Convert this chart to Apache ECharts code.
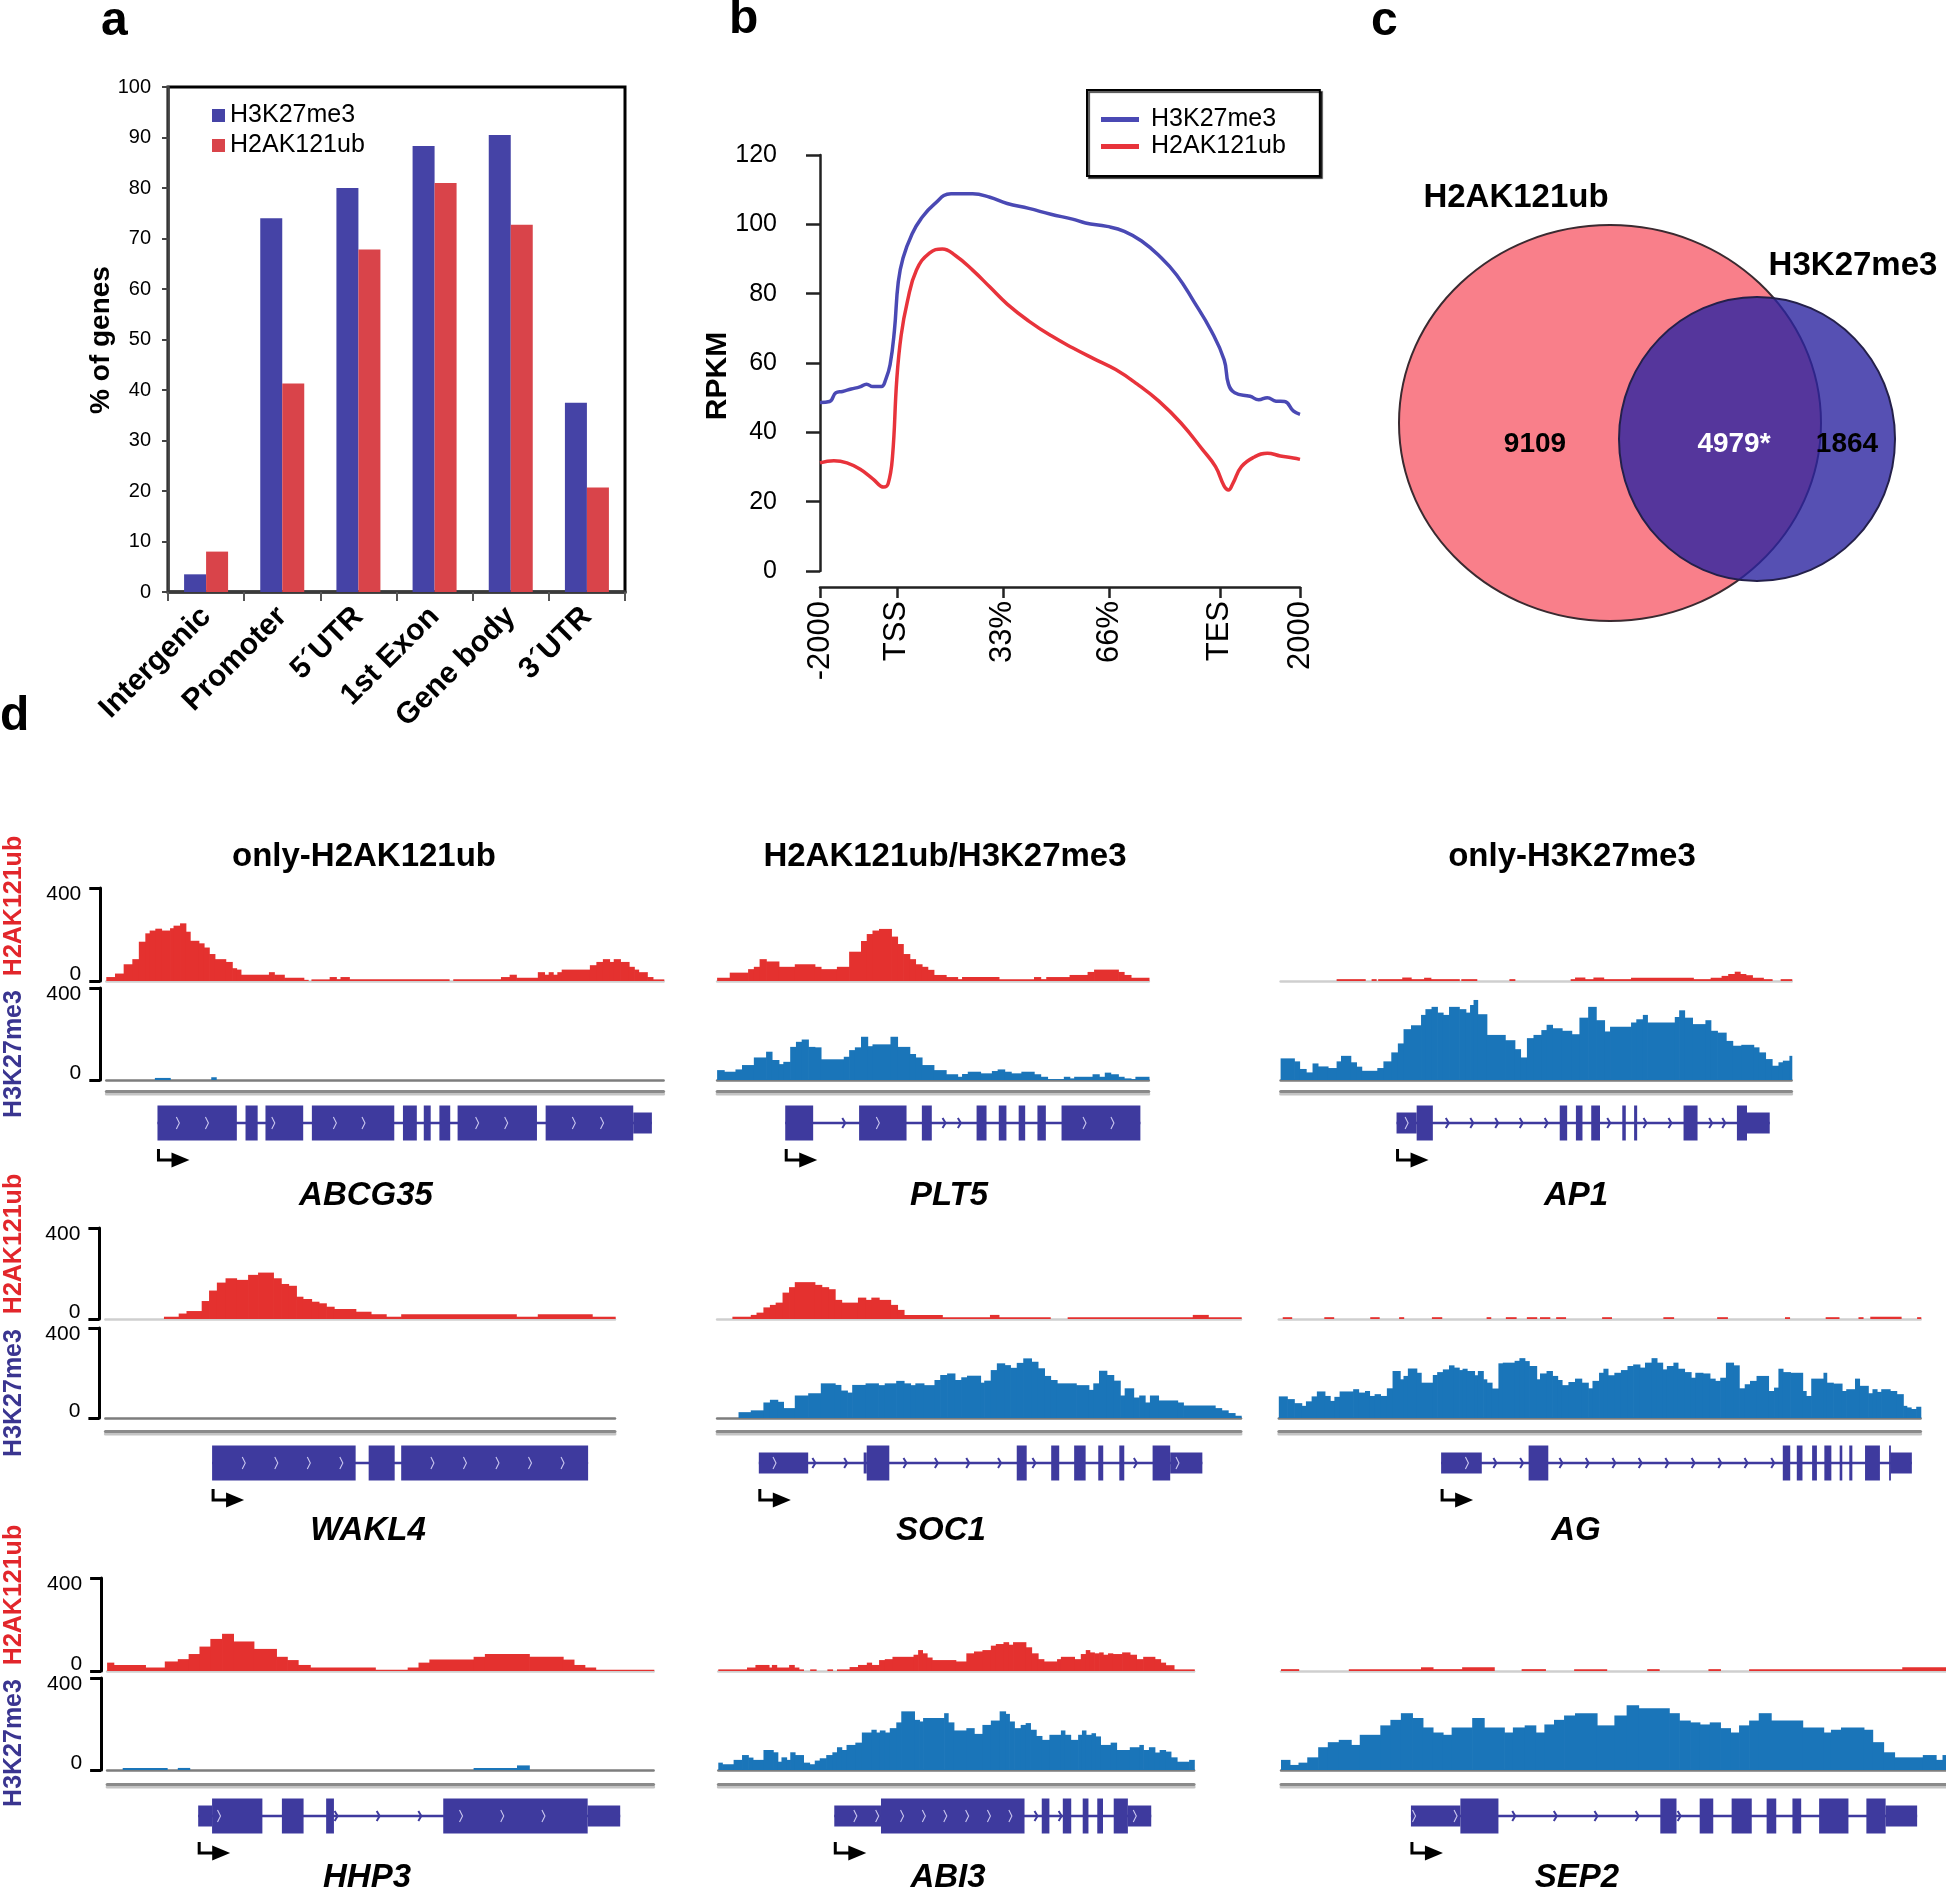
<!DOCTYPE html>
<html><head><meta charset="utf-8">
<script src="https://cdn.jsdelivr.net/npm/echarts@6/dist/echarts.min.js"></script>
<style>html,body{margin:0;padding:0;background:#fff}#c{width:1946px;height:1888px}</style>
</head><body><div id="c"></div>
<script>
const FONT = '"Liberation Sans", Arial, Helvetica, sans-serif';

// ---------- panel a ----------
const regions = ['Intergenic', 'Promoter', '5´UTR', '1st Exon', 'Gene body', '3´UTR'];
const pctH3K27me3 = [3.5, 74, 80, 88.3, 90.5, 37.5];
const pctH2AK121ub = [8, 41.3, 67.8, 81, 72.7, 20.7];

// ---------- panel b ----------
const profileTickPos = [0, 16, 38.1, 60.3, 83.3, 100];
const profileTickLabels = ['-2000', 'TSS', '33%', '66%', 'TES', '2000'];
const profileH3K27me3 = [[0,48.6],[2.0,48.9],[3.3,51.4],[4.7,51.8],[6.5,52.5],[8.3,53.1],[9.7,53.9],[11.0,53.2],[12.8,53.2],[13.7,55.3],[14.6,59.5],[15.5,69.3],[16.3,83.3],[17.3,90.3],[19.2,97.3],[21.0,101.5],[23.7,105.7],[27.3,108.8],[31.8,108.8],[35.4,107.8],[39.0,106],[43.5,104.6],[48.1,102.9],[52.6,101.5],[55.3,100.4],[59.8,99.4],[63.4,98],[67.0,95.2],[70.6,91],[74.3,85.4],[77.9,77.7],[81.5,69.3],[84.2,60.9],[85.1,53.9],[86.4,51.4],[89.6,50.4],[91.4,49.4],[93.2,50],[95.0,49],[96.8,48.9],[98.6,46.2],[100,45.2]];
const profileH2AK121ub = [[0,31.2],[2.9,31.8],[5.6,31.2],[8.3,29.4],[11.0,26.6],[13.3,24.2],[14.2,25.2],[15.1,32.9],[16.0,55.3],[16.9,67.9],[18.2,77.7],[20.1,86.8],[22.8,91.7],[25.5,92.9],[28.2,91],[31.8,86.8],[35.4,81.9],[39.0,77],[43.5,72.1],[48.1,67.9],[52.6,64.4],[57.1,61.2],[61.6,58.1],[66.1,53.9],[70.6,49],[75.2,42.7],[79.7,35],[82.4,30.1],[84.2,24.5],[85.1,23.4],[86.0,25.2],[87.8,30.1],[90.5,32.9],[93.2,34],[95.9,33.2],[98.6,32.6],[100,32.2]];

// ---------- panel c ----------
const vennSets = ['H2AK121ub', 'H3K27me3'];
const vennCounts = [9109, 4979, 1864]; // only H2AK121ub, both (*), only H3K27me3

// ---------- panel d : tracks [position, value] steps (null = no signal) ----------
const ABCG35_locus = [245, 1530, 363];
const ABCG35_H2AK121ub = [[245,17],[265,32],[285,72],[305,94],[320,169],[335,205],[345,217],[358,225],[372,217],[392,227],[400,238],[415,248],[428,212],[438,173],[458,162],[470,144],[482,116],[495,94],[520,82],[535,55],[545,49],[555,27],[620,38],[632,27],[655,14],[700,5],[710,null],[718,7],[760,17],[775,8],[785,17],[805,7],[1035,null],[1045,7],[1155,17],[1175,27],[1190,14],[1240,38],[1255,27],[1265,38],[1275,27],[1285,38],[1295,49],[1360,68],[1375,82],[1390,94],[1405,82],[1415,94],[1430,82],[1450,61],[1462,49],[1472,38],[1492,17],[1505,7],[1530,null]];
const ABCG35_H3K27me3 = [[357,9],[392,null],[487,12],[498,null]];
const ABCG35_exons = [[363,546,1],[566,594,1],[612,699,1],[719,909,1],[929,961,1],[977,993,1],[1013,1038,1],[1055,1238,1],[1258,1460,1],[1460,1503,0]];
const ABCG35_chevrons = [410,477,630,772,838,1100,1167,1323,1388];

const PLT5_locus = [97, 1225, 275];
const PLT5_H2AK121ub = [[97,14],[130,36],[178,51],[193,61],[208,94],[225,84],[258,61],[300,72],[352,61],[368,51],[410,61],[442,126],[473,172],[488,202],[503,217],[520,224],[552,191],[568,159],[583,116],[600,94],[615,72],[632,61],[647,48],[663,26],[695,17],[725,8],[737,17],[833,8],[925,17],[942,8],[957,17],[1018,26],[1065,39],[1082,49],[1145,39],[1160,26],[1178,14],[1225,null]];
const PLT5_H3K27me3 = [[97,43],[115,36],[145,46],[162,65],[193,98],[225,123],[240,87],[258,69],[270,79],[288,144],[303,166],[318,176],[335,144],[352,142],[368,90],[428,101],[442,130],[457,142],[473,188],[490,147],[503,155],[550,188],[568,144],[600,113],[615,98],[632,65],[663,43],[695,25],[725,14],[737,26],[752,36],[785,29],[815,39],[830,46],[848,36],[865,29],[892,36],[925,25],[942,14],[960,4],[1003,14],[1018,7],[1030,14],[1078,25],[1095,14],[1110,32],[1125,25],[1145,14],[1160,7],[1178,4],[1190,14],[1225,null]];
const PLT5_exons = [[275,348,1],[468,592,1],[632,658,1],[775,801,1],[833,853,1],[885,902,1],[934,956,1],[997,1203,1]];
const PLT5_chevrons = [428,517,690,730,1057,1130];

const AP1_locus = [47, 1215, 312];
const AP1_H2AK121ub = [[47,null],[175,8],[240,null],[255,8],[265,null],[270,8],[325,15],[345,8],[375,14],[390,8],[455,null],[460,8],[495,null],[570,8],[582,null],[710,8],[720,15],[742,8],[762,15],[785,8],[848,14],[990,8],[1030,14],[1055,22],[1070,30],[1085,40],[1097,30],[1110,25],[1125,14],[1150,8],[1170,null],[1190,8],[1215,null]];
const AP1_H3K27me3 = [[47,94],[78,81],[90,48],[105,33],[120,72],[132,59],[155,52],[175,81],[185,105],[207,77],[220,58],[232,40],[268,52],[282,81],[300,120],[315,159],[328,221],[345,238],[368,283],[378,308],[392,318],[405,293],[418,283],[432,318],[455,308],[470,293],[480,326],[488,348],[497,286],[518,196],[560,173],[582,134],[595,98],[610,182],[625,196],[643,217],[655,240],[668,225],[690,214],[712,199],[730,271],[750,318],[768,260],[787,211],[800,231],[848,250],[860,264],[875,283],[885,250],[948,274],[958,303],[970,271],[988,243],[1018,260],[1030,214],[1045,206],[1065,170],[1080,149],[1100,153],[1128,142],[1140,120],[1155,91],[1170,62],[1185,77],[1195,84],[1210,105],[1215,null]];
const AP1_exons = [[312,358,0],[358,395,1],[685,702,1],[722,737,1],[757,777,1],[828,836,1],[855,862,1],[968,1000,1],[1090,1113,1],[1113,1165,0]];
const AP1_chevrons = [335,428,484,541,597,654,797,880,937,1030,1060];

const WAKL4_locus = [243, 1418, 489];
const WAKL4_H2AK121ub = [[243,null],[378,10],[412,24],[430,35],[465,79],[482,125],[500,160],[520,179],[545,172],[572,194],[595,204],[630,179],[648,154],[665,146],[683,98],[698,88],[718,76],[735,69],[752,54],[770,44],[820,32],[855,21],[890,10],[925,21],[1190,10],[1240,21],[1365,10],[1418,null]];
const WAKL4_H3K27me3 = [];
const WAKL4_exons = [[489,820,1],[850,910,1],[925,1356,1]];
const WAKL4_chevrons = [562,637,712,787,997,1072,1147,1222,1297];

const SOC1_locus = [97, 1466, 206];
const SOC1_H2AK121ub = [[97,null],[137,10],[185,18],[200,28],[218,51],[235,62],[250,72],[268,116],[285,140],[300,162],[352,150],[370,140],[388,131],[405,84],[422,72],[465,94],[485,84],[500,94],[520,84],[550,62],[568,40],[585,18],[685,8],[810,18],[833,8],[967,null],[1013,8],[1340,18],[1380,8],[1466,null]];
const SOC1_H3K27me3 = [[97,null],[153,26],[185,34],[218,69],[235,81],[255,72],[270,44],[300,100],[335,110],[368,154],[405,147],[420,122],[437,113],[450,147],[485,154],[518,146],[535,154],[565,165],[585,154],[602,146],[615,154],[637,146],[665,169],[680,191],[698,198],[718,169],[735,181],[750,188],[785,157],[795,166],[812,213],[828,243],[848,235],[863,223],[880,245],[897,265],[918,250],[935,221],[952,187],[968,169],[985,154],[1035,146],[1068,125],[1080,154],[1095,210],[1115,191],[1133,166],[1150,100],[1162,132],[1185,91],[1200,100],[1215,69],[1228,100],[1250,78],[1300,69],[1315,56],[1398,44],[1415,34],[1432,22],[1450,10],[1466,null]];
const SOC1_exons = [[206,335,0],[480,488,0],[488,547,1],[880,906,1],[970,991,1],[1030,1060,1],[1093,1106,1],[1148,1161,1],[1235,1281,1],[1281,1365,0]];
const SOC1_chevrons = [247,350,433,588,670,752,835,925,1190,1300];

const AG_locus = [43, 1510, 414];
const AG_H2AK121ub = [[43,null],[52,8],[72,null],[147,8],[168,null],[252,8],[272,null],[318,8],[328,null],[393,8],[415,null],[518,8],[527,null],[562,8],[585,null],[610,8],[632,null],[640,8],[662,null],[677,8],[698,null],[782,8],[803,null],[922,8],[945,null],[1045,8],[1068,null],[1200,8],[1210,null],[1293,8],[1323,null],[1368,8],[1378,null],[1395,10],[1465,null],[1502,8],[1510,null]];
const AG_H3K27me3 = [[43,96],[62,84],[78,66],[95,54],[105,74],[118,96],[130,118],[148,98],[160,76],[170,94],[182,118],[213,128],[225,113],[240,120],[250,98],[262,106],[275,98],[290,132],[303,209],[320,172],[328,187],[338,220],[358,201],[368,157],[395,191],[405,204],[418,216],[432,234],[443,224],[455,213],[463,219],[473,209],[490,190],[498,209],[510,172],[518,157],[530,131],[545,243],[555,246],[582,254],[593,266],[605,253],[615,231],[632,172],[640,198],[655,209],[668,187],[680,169],[690,146],[705,160],[720,175],[735,157],[750,132],[760,165],[775,201],[785,219],[795,190],[810,201],[825,213],[840,231],[853,238],[868,224],[880,246],[895,266],[907,246],[920,216],[930,231],[945,246],[955,219],[970,204],[985,179],[995,201],[1012,198],[1028,175],[1040,165],[1052,179],[1065,246],[1082,234],[1095,132],[1108,150],[1120,165],[1135,187],[1162,120],[1175,135],[1185,219],[1195,204],[1212,201],[1240,120],[1248,98],[1260,175],[1288,201],[1295,157],[1310,153],[1330,120],[1340,128],[1360,175],[1370,143],[1390,110],[1400,128],[1410,116],[1420,128],[1440,120],[1455,106],[1470,54],[1478,47],[1488,40],[1500,50],[1510,null]];
const AG_exons = [[414,507,0],[614,659,1],[1195,1212,1],[1227,1240,1],[1262,1273,1],[1290,1306,1],[1325,1331,1],[1347,1354,1],[1383,1417,1],[1438,1441,1],[1441,1490,0]];
const AG_chevrons = [473,537,598,688,748,809,869,930,990,1051,1111,1172];

const HHP3_locus = [247, 1507, 457];
const HHP3_H2AK121ub = [[247,36],[262,26],[335,15],[380,41],[410,51],[435,73],[460,105],[485,138],[512,160],[538,127],[585,95],[637,61],[662,47],[687,26],[715,15],[865,5],[940,15],[965,36],[990,49],[1092,61],[1118,73],[1220,61],[1298,49],[1323,26],[1348,15],[1373,5],[1507,null]];
const HHP3_H3K27me3 = [[283,9],[385,null],[410,9],[437,null],[1092,9],[1192,20],[1220,null]];
const HHP3_exons = [[457,489,0],[489,605,1],[650,700,1],[752,770,1],[1022,1355,1],[1355,1430,0]];
const HHP3_chevrons = [505,775,872,968,1063,1158,1253];

const ABI3_locus = [100, 1343, 403];
const ABI3_H2AK121ub = [[100,7],[175,15],[197,26],[232,15],[240,26],[252,15],[285,26],[298,15],[310,7],[322,null],[340,7],[355,null],[385,7],[398,null],[410,7],[443,17],[465,26],[488,36],[500,26],[520,47],[535,51],[555,61],[610,70],[622,90],[633,76],[645,58],[658,47],[720,41],[748,76],[768,84],[790,90],[812,109],[825,116],[845,124],[858,113],[870,124],[903,102],[918,76],[935,51],[950,41],[985,51],[995,61],[1030,51],[1047,73],[1060,90],[1070,80],[1082,76],[1095,80],[1105,70],[1118,76],[1130,73],[1155,80],[1175,70],[1192,51],[1210,61],[1240,51],[1255,36],[1268,25],[1290,7],[1343,null]];
const ABI3_H3K27me3 = [[100,32],[110,25],[140,44],[162,65],[178,54],[190,44],[218,87],[243,77],[255,36],[265,55],[278,44],[288,77],[300,65],[322,32],[338,25],[352,41],[365,51],[382,65],[398,77],[410,99],[422,87],[435,109],[458,119],[475,163],[500,175],[512,163],[522,172],[535,163],[548,182],[565,207],[578,255],[612,218],[625,211],[635,226],[690,247],[700,207],[715,172],[748,182],[768,157],[790,196],[812,215],[835,255],[850,244],[860,211],[873,182],[890,196],[903,204],[915,175],[930,148],[945,131],[965,153],[995,172],[1005,153],[1020,131],[1040,153],[1050,172],[1060,153],[1075,160],[1085,146],[1098,109],[1125,119],[1140,87],[1175,99],[1200,109],[1210,87],[1225,99],[1240,76],[1253,87],[1268,80],[1282,55],[1298,36],[1330,44],[1343,null]];
const ABI3_exons = [[403,525,0],[525,900,1],[945,965,1],[1000,1022,1],[1052,1067,1],[1090,1105,1],[1133,1170,1],[1170,1231,0]];
const ABI3_chevrons = [458,515,580,637,693,750,807,863,930,993,1188];

const SEP2_locus = [48, 1568, 345];
const SEP2_H2AK121ub = [[48,8],[88,null],[203,8],[368,16],[395,8],[462,16],[535,null],[598,8],[652,null],[718,8],[792,null],[885,8],[912,null],[1025,8],[1052,null],[1118,8],[1468,16],[1568,null]];
const SEP2_H3K27me3 = [[48,44],[68,22],[88,32],[108,55],[133,99],[155,121],[180,131],[208,109],[228,153],[275,194],[298,218],[322,247],[348,226],[372,185],[395,163],[418,153],[438,185],[485,226],[512,185],[558,163],[578,185],[605,194],[630,163],[650,198],[672,218],[695,237],[720,247],[770,194],[810,237],[838,281],[865,269],[935,247],[958,215],[983,207],[1005,198],[1028,207],[1052,182],[1075,163],[1095,194],[1118,215],[1140,247],[1168,215],[1240,185],[1288,163],[1305,175],[1328,185],[1380,175],[1400,121],[1425,77],[1450,55],[1515,65],[1545,44],[1560,65],[1568,null]];
const SEP2_exons = [[345,458,0],[458,545,1],[915,952,1],[1005,1036,1],[1078,1124,1],[1158,1180,1],[1217,1237,1],[1278,1345,1],[1386,1430,1],[1430,1502,0]];
const SEP2_chevrons = [352,447,580,675,768,862,958];

const columnTitles = ['only-H2AK121ub', 'H2AK121ub/H3K27me3', 'only-H3K27me3'];

// ---------- layout (pixels) ----------
const ROWS = [
  {redTop: 888, redBase: 981, blueTop: 988, blueBase: 1080, dbl: 1091, nameY: 1196, sideRed: 906, sideBlue: 1054},
  {redTop: 1228, redBase: 1319, blueTop: 1328, blueBase: 1418, dbl: 1431, nameY: 1531, sideRed: 1244, sideBlue: 1393},
  {redTop: 1578, redBase: 1671, blueTop: 1678, blueBase: 1770, dbl: 1784, nameY: 1878, sideRed: 1595, sideBlue: 1743}
];
const GENES = [
  {name: 'ABCG35', row: 0, col: 0, left: 106.3, right: 663.6, nameX: 366, locus: ABCG35_locus, red: ABCG35_H2AK121ub, blue: ABCG35_H3K27me3, exons: ABCG35_exons, chev: ABCG35_chevrons},
  {name: 'PLT5', row: 0, col: 1, left: 717.1, right: 1148.8, nameX: 949, locus: PLT5_locus, red: PLT5_H2AK121ub, blue: PLT5_H3K27me3, exons: PLT5_exons, chev: PLT5_chevrons},
  {name: 'AP1', row: 0, col: 2, left: 1280.6, right: 1791.6, nameX: 1576, locus: AP1_locus, red: AP1_H2AK121ub, blue: AP1_H3K27me3, exons: AP1_exons, chev: AP1_chevrons},
  {name: 'WAKL4', row: 1, col: 0, left: 105.4, right: 615, nameX: 368, locus: WAKL4_locus, red: WAKL4_H2AK121ub, blue: WAKL4_H3K27me3, exons: WAKL4_exons, chev: WAKL4_chevrons},
  {name: 'SOC1', row: 1, col: 1, left: 717.1, right: 1241, nameX: 941, locus: SOC1_locus, red: SOC1_H2AK121ub, blue: SOC1_H3K27me3, exons: SOC1_exons, chev: SOC1_chevrons},
  {name: 'AG', row: 1, col: 2, left: 1278.8, right: 1920.6, nameX: 1576, locus: AG_locus, red: AG_H2AK121ub, blue: AG_H3K27me3, exons: AG_exons, chev: AG_chevrons},
  {name: 'HHP3', row: 2, col: 0, left: 107.1, right: 653.6, nameX: 367, locus: HHP3_locus, red: HHP3_H2AK121ub, blue: HHP3_H3K27me3, exons: HHP3_exons, chev: HHP3_chevrons},
  {name: 'ABI3', row: 2, col: 1, left: 718.3, right: 1194.1, nameX: 948, locus: ABI3_locus, red: ABI3_H2AK121ub, blue: ABI3_H3K27me3, exons: ABI3_exons, chev: ABI3_chevrons},
  {name: 'SEP2', row: 2, col: 2, left: 1281, right: 1946, nameX: 1577, locus: SEP2_locus, red: SEP2_H2AK121ub, blue: SEP2_H3K27me3, exons: SEP2_exons, chev: SEP2_chevrons}
];

// ---------- styles ----------
const BAR_BLUE = '#4543a6', BAR_RED = '#d9444a';
const LINE_BLUE = '#4a49b4', LINE_RED = '#e8333b';
const TRACK_RED = '#e4312f', TRACK_BLUE = '#1a75b9';
const EXON = '#3e3a9e';
const GENE_DY = 32, ARROW_DY = 69;

function stepsToSegments(arr) {
  const out = [];
  for (let i = 0; i < arr.length - 1; i++) {
    if (arr[i][1] != null) out.push([arr[i][0], arr[i + 1][0], arr[i][1]]);
  }
  return out;
}
function histRender(color) {
  return function (params, api) {
    const a = api.coord([api.value(0), api.value(2)]);
    const b = api.coord([api.value(1), 0]);
    return {type: 'rect', shape: {x: a[0], y: a[1], width: b[0] - a[0] + 0.7, height: b[1] - a[1]}, style: {fill: color}};
  };
}
function exonRender(params, api) {
  const cy = params.coordSys.y + GENE_DY;
  const a = api.coord([api.value(0), 0]), b = api.coord([api.value(1), 0]);
  const h = api.value(2) === 1 ? 35 : 21;
  return {type: 'rect', shape: {x: a[0], y: cy - h / 2, width: Math.max(b[0] - a[0], 1.8), height: h}, style: {fill: EXON}};
}
function intronRender(params, api) {
  const cy = params.coordSys.y + GENE_DY;
  const a = api.coord([api.value(0), 0]), b = api.coord([api.value(1), 0]);
  return {type: 'rect', shape: {x: a[0], y: cy - 1.3, width: b[0] - a[0], height: 2.6}, style: {fill: EXON}};
}
function chevRender(params, api) {
  const cy = params.coordSys.y + GENE_DY;
  const p = api.coord([api.value(0), 0]);
  const inside = api.value(1) === 1;
  const h = inside ? 6 : 5;
  return {type: 'polyline', shape: {points: [[p[0] - 1.5, cy - h], [p[0] + 1.5, cy], [p[0] - 1.5, cy + h]]},
    style: {stroke: inside ? '#c9c6ef' : EXON, lineWidth: inside ? 1.1 : 2, fill: null}};
}
function arrowRender(params, api) {
  const y = params.coordSys.y + ARROW_DY;
  const x = api.coord([api.value(0), 0])[0] + 1;
  return {type: 'group', children: [
    {type: 'polyline', shape: {points: [[x, y - 11], [x, y], [x + 16, y]]}, style: {stroke: '#000', lineWidth: 3, fill: null}},
    {type: 'polygon', shape: {points: [[x + 13, y - 7.5], [x + 31, y], [x + 13, y + 7.5]]}, style: {fill: '#000'}}
  ]};
}

const grid = [], xAxis = [], yAxis = [], series = [], graphic = [];

// panel a
grid.push({left: 168, top: 87, width: 457, height: 505, show: true, borderColor: '#000', borderWidth: 3, backgroundColor: 'transparent'});
xAxis.push({gridIndex: 0, type: 'category', data: regions,
  axisLine: {lineStyle: {color: '#3a3a3a', width: 3.5}},
  axisTick: {show: true, interval: 0, length: 9, lineStyle: {color: '#555', width: 2}},
  axisLabel: {interval: 0, rotate: 45, fontSize: 30, fontWeight: 'bold', color: '#000', margin: 20, fontFamily: FONT}});
yAxis.push({gridIndex: 0, type: 'value', min: 0, max: 100, interval: 10,
  axisLine: {show: true, lineStyle: {color: '#444', width: 2.5}},
  axisTick: {show: true, length: 6, lineStyle: {color: '#444', width: 2}},
  axisLabel: {fontSize: 20, color: '#000', margin: 17, fontFamily: FONT}, splitLine: {show: false}});
series.push({name: 'H3K27me3', type: 'bar', xAxisIndex: 0, yAxisIndex: 0, data: pctH3K27me3, barWidth: 22, barGap: '0%', itemStyle: {color: BAR_BLUE}});
series.push({name: 'H2AK121ub', type: 'bar', xAxisIndex: 0, yAxisIndex: 0, data: pctH2AK121ub, barWidth: 22, barGap: '0%', itemStyle: {color: BAR_RED}});

// panel b
grid.push({left: 820, top: 155, width: 480, height: 416});
xAxis.push({gridIndex: 1, type: 'value', min: 0, max: 100, offset: 16,
  axisLine: {onZero: false, lineStyle: {color: '#222', width: 2.5}},
  axisTick: {show: true, customValues: profileTickPos, length: 11, lineStyle: {color: '#222', width: 2.5}},
  axisLabel: {customValues: profileTickPos, formatter: v => profileTickLabels[profileTickPos.indexOf(v)], rotate: 90, fontSize: 31, color: '#000', margin: 14, fontFamily: FONT},
  splitLine: {show: false}});
yAxis.push({gridIndex: 1, type: 'value', min: 0, max: 120, interval: 20, offset: 20,
  axisLine: {show: true, lineStyle: {color: '#222', width: 2.5}},
  axisTick: {show: true, length: 14, lineStyle: {color: '#222', width: 2.5}},
  axisLabel: {fontSize: 25, color: '#000', margin: 23, fontFamily: FONT}, splitLine: {show: false}});
series.push({name: 'H3K27me3', type: 'line', xAxisIndex: 1, yAxisIndex: 1, data: profileH3K27me3, smooth: 0.45, showSymbol: false, lineStyle: {color: LINE_BLUE, width: 3.5}, itemStyle: {color: LINE_BLUE}});
series.push({name: 'H2AK121ub', type: 'line', xAxisIndex: 1, yAxisIndex: 1, data: profileH2AK121ub, smooth: 0.45, showSymbol: false, lineStyle: {color: LINE_RED, width: 3.5}, itemStyle: {color: LINE_RED}});

// panel d
function trackYAxis(gi, show) {
  return {gridIndex: gi, type: 'value', min: 0, max: 400, interval: 400, show: show, offset: 6,
    axisLine: {show: true, lineStyle: {color: '#000', width: 3}},
    axisTick: {show: true, length: 11, lineStyle: {color: '#000', width: 3}},
    axisLabel: {fontSize: 21, color: '#000', margin: 19, fontFamily: FONT, lineHeight: 13,
      verticalAlignMinLabel: 'bottom', verticalAlignMaxLabel: 'top'},
    splitLine: {show: false}};
}
GENES.forEach(g => {
  const r = ROWS[g.row];
  const w = g.right - g.left;
  const [x0, x1, tss] = g.locus;
  const showAxis = g.col === 0;
  let gi = grid.length;
  grid.push({left: g.left, top: r.redTop, width: w, height: r.redBase - r.redTop});
  xAxis.push({gridIndex: gi, type: 'value', min: x0, max: x1, axisLine: {onZero: false, lineStyle: {color: '#cfcfcf', width: 2.5}}, axisTick: {show: false}, axisLabel: {show: false}, splitLine: {show: false}});
  yAxis.push(trackYAxis(gi, showAxis));
  series.push({name: g.name + ' H2AK121ub', type: 'custom', xAxisIndex: gi, yAxisIndex: gi, renderItem: histRender(TRACK_RED), data: stepsToSegments(g.red), encode: {x: [0, 1], y: 2}, silent: true});
  gi = grid.length;
  grid.push({left: g.left, top: r.blueTop, width: w, height: r.blueBase - r.blueTop});
  xAxis.push({gridIndex: gi, type: 'value', min: x0, max: x1, axisLine: {onZero: false, lineStyle: {color: '#7d7d7d', width: 2.5}}, axisTick: {show: false}, axisLabel: {show: false}, splitLine: {show: false}});
  yAxis.push(trackYAxis(gi, showAxis));
  series.push({name: g.name + ' H3K27me3', type: 'custom', xAxisIndex: gi, yAxisIndex: gi, renderItem: histRender(TRACK_BLUE), data: stepsToSegments(g.blue), encode: {x: [0, 1], y: 2}, silent: true});
  gi = grid.length;
  grid.push({left: g.left, top: r.dbl, width: w, height: 80});
  xAxis.push({gridIndex: gi, type: 'value', min: x0, max: x1, position: 'top',
    axisLine: {onZero: false, lineStyle: {color: '#8a8a8a', width: 3, shadowColor: '#c4c4c4', shadowOffsetY: 2.5, shadowBlur: 0}},
    axisTick: {show: false}, axisLabel: {show: false}, splitLine: {show: false}});
  yAxis.push({gridIndex: gi, type: 'value', min: 0, max: 1, show: false});
  const gStart = g.exons[0][0], gEnd = g.exons[g.exons.length - 1][1];
  series.push({type: 'custom', xAxisIndex: gi, yAxisIndex: gi, renderItem: intronRender, data: [[gStart, gEnd]], encode: {x: [0, 1]}, silent: true});
  series.push({type: 'custom', xAxisIndex: gi, yAxisIndex: gi, renderItem: exonRender, data: g.exons, encode: {x: [0, 1]}, silent: true});
  const chevData = g.chev.map(c => [c, g.exons.some(e => c > e[0] + 2 && c < e[1] - 2 && (e[1] - e[0]) > 12) ? 1 : 0]);
  series.push({type: 'custom', xAxisIndex: gi, yAxisIndex: gi, renderItem: chevRender, data: chevData, encode: {x: 0}, silent: true});
  series.push({type: 'custom', xAxisIndex: gi, yAxisIndex: gi, renderItem: arrowRender, data: [[tss]], encode: {x: 0}, silent: true});
  graphic.push({type: 'text', x: g.nameX, y: r.nameY, style: {text: g.name, font: 'italic bold 33px ' + FONT, fill: '#000', align: 'center', verticalAlign: 'middle'}});
});

// texts
function txt(text, x, y, font, fill, rot, align) {
  graphic.push({type: 'text', x: x, y: y, rotation: rot || 0, style: {text: text, font: font, fill: fill || '#000', align: align || 'center', verticalAlign: 'middle'}});
}
txt('a', 101, 22, 'bold 48px ' + FONT, '#000', 0, 'left');
txt('b', 729, 20, 'bold 48px ' + FONT, '#000', 0, 'left');
txt('c', 1371, 22, 'bold 48px ' + FONT, '#000', 0, 'left');
txt('d', 0, 717, 'bold 48px ' + FONT, '#000', 0, 'left');
txt('% of genes', 101, 340, 'bold 28px ' + FONT, '#000', Math.PI / 2);
txt('RPKM', 718, 376, 'bold 30px ' + FONT, '#000', Math.PI / 2);
const colCenters = [364, 945, 1572];
columnTitles.forEach((t, i) => txt(t, colCenters[i], 857, 'bold 33px ' + FONT, '#000'));
ROWS.forEach(r => {
  txt('H2AK121ub', 14, r.sideRed, 'bold 25px ' + FONT, '#e2262b', Math.PI / 2);
  txt('H3K27me3', 14, r.sideBlue, 'bold 25px ' + FONT, '#3a3590', Math.PI / 2);
});

// Venn
graphic.push({type: 'ellipse', shape: {cx: 1610, cy: 423, rx: 211, ry: 198}, style: {fill: '#f97f8a', stroke: '#3a2a30', lineWidth: 2}, z: 10});
graphic.push({type: 'ellipse', shape: {cx: 1757, cy: 439, rx: 138, ry: 142}, style: {fill: 'rgba(44,36,160,0.8)', stroke: '#24204a', lineWidth: 2}, z: 11});
graphic.push({type: 'text', x: 1516, y: 198, z: 12, style: {text: vennSets[0], font: 'bold 33px ' + FONT, fill: '#000', align: 'center', verticalAlign: 'middle'}});
graphic.push({type: 'text', x: 1853, y: 266, z: 12, style: {text: vennSets[1], font: 'bold 33px ' + FONT, fill: '#000', align: 'center', verticalAlign: 'middle'}});
graphic.push({type: 'text', x: 1535, y: 444, z: 12, style: {text: String(vennCounts[0]), font: 'bold 28px ' + FONT, fill: '#000', align: 'center', verticalAlign: 'middle'}});
graphic.push({type: 'text', x: 1734, y: 444, z: 12, style: {text: vennCounts[1] + '*', font: 'bold 28px ' + FONT, fill: '#fff', align: 'center', verticalAlign: 'middle'}});
graphic.push({type: 'text', x: 1847, y: 444, z: 12, style: {text: String(vennCounts[2]), font: 'bold 28px ' + FONT, fill: '#000', align: 'center', verticalAlign: 'middle'}});

const option = {
  animation: false,
  backgroundColor: '#fff',
  textStyle: {fontFamily: FONT},
  grid, xAxis, yAxis, series, graphic,
  legend: [
    {orient: 'vertical', left: 212, top: 103, itemWidth: 13, itemHeight: 13, itemGap: 5, selectedMode: false, padding: 0,
      textStyle: {fontSize: 25, color: '#000', fontFamily: FONT},
      data: [{name: 'H3K27me3', icon: 'rect', itemStyle: {color: BAR_BLUE}}, {name: 'H2AK121ub', icon: 'rect', itemStyle: {color: BAR_RED}}]},
    {orient: 'vertical', left: 1087, top: 90, itemWidth: 38, itemHeight: 5, itemGap: 2, selectedMode: false, padding: [17, 34, 17, 14],
      borderColor: '#000', borderWidth: 2, backgroundColor: '#fff', shadowColor: 'rgba(0,0,0,0.7)', shadowOffsetX: 2, shadowOffsetY: 2, shadowBlur: 1,
      textStyle: {fontSize: 25, color: '#000', fontFamily: FONT, padding: [0, 0, 0, 7]},
      data: [{name: 'H3K27me3', icon: 'rect', itemStyle: {color: LINE_BLUE}}, {name: 'H2AK121ub', icon: 'rect', itemStyle: {color: LINE_RED}}]}
  ]
};
const chart = echarts.init(document.getElementById('c'), null, {renderer: 'canvas'});
chart.setOption(option);
</script></body></html>
